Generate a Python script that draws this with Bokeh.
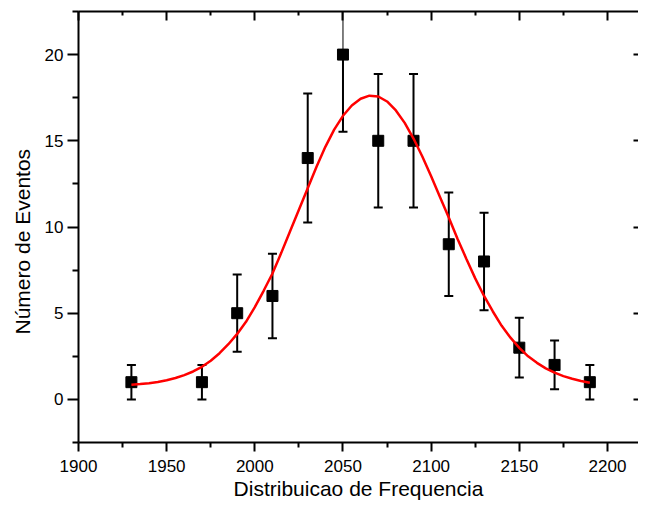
from bokeh.plotting import figure
from bokeh.models import Range1d, LinearAxis, FixedTicker, ColumnDataSource, Title
from bokeh.embed import file_html
from bokeh.resources import INLINE

# measured data (frequency bins, counts, error)
freq = [1930, 1970, 1990, 2010, 2030, 2050, 2070, 2090, 2110, 2130, 2150, 2170, 2190]
events = [1, 1, 5, 6, 14, 20, 15, 15, 9, 8, 3, 2, 1]
err = [1.0, 1.0, 2.24, 2.45, 3.74, 4.47, 3.87, 3.87, 3.0, 2.83, 1.73, 1.41, 1.0]

# fitted curve
fit_x = [1930, 1935, 1940, 1945, 1950, 1955, 1960, 1965, 1970, 1975, 1980, 1985,
         1990, 1995, 2000, 2005, 2010, 2015, 2020, 2025, 2030, 2035, 2040, 2045,
         2050, 2055, 2060, 2065, 2070, 2075, 2080, 2085, 2090, 2095, 2100, 2105,
         2110, 2115, 2120, 2125, 2130, 2135, 2140, 2145, 2150, 2155, 2160, 2165,
         2170, 2175, 2180, 2185, 2190]
fit_y = [0.85, 0.89, 0.94, 1.01, 1.11, 1.24, 1.41, 1.62, 1.89, 2.24, 2.68, 3.2,
         3.8, 4.5, 5.35, 6.3, 7.3, 8.5, 9.75, 11.0, 12.25, 13.5, 14.65, 15.65,
         16.45, 17.05, 17.44, 17.62, 17.57, 17.28, 16.76, 16.04, 15.13, 14.09, 12.95, 11.74,
         10.55, 9.3, 8.15, 7.02, 6.0, 5.1, 4.27, 3.58, 2.99, 2.5, 2.12, 1.8,
         1.55, 1.35, 1.2, 1.07, 0.97]

x_ticks = [1900, 1950, 2000, 2050, 2100, 2150, 2200]
x_minor = [1925, 1975, 2025, 2075, 2125, 2175]
y_ticks = [0, 5, 10, 15, 20]
y_minor = [-2.5, 2.5, 7.5, 12.5, 17.5, 22.5]

X0, X1 = 1900, 2217.6
Y0, Y1 = -2.5, 22.5

FONT = "Liberation Sans"

p = figure(width=638, height=502, output_backend="svg", toolbar_location=None,
           x_range=Range1d(X0, X1), y_range=Range1d(Y0, Y1),
           x_axis_location=None, y_axis_location=None,
           min_border_left=78, min_border_right=0, min_border_top=11,
           min_border_bottom=59)
p.outline_line_color = None
p.xgrid.visible = False
p.ygrid.visible = False
p.background_fill_color = "white"
p.border_fill_color = "white"


def style(ax):
    ax.axis_line_width = 2
    ax.axis_line_color = "black"
    ax.major_tick_line_width = 2
    ax.minor_tick_line_width = 2
    ax.major_tick_line_color = "black"
    ax.minor_tick_line_color = "black"
    ax.major_label_text_font = FONT
    ax.major_label_text_font_size = "17px"
    ax.major_label_text_color = "black"
    ax.axis_label_text_font = FONT
    ax.axis_label_text_font_size = "21px"
    ax.axis_label_text_font_style = "normal"
    ax.axis_label_text_color = "black"
    ax.major_tick_in = 0
    ax.major_tick_out = 0
    ax.minor_tick_in = 0
    ax.minor_tick_out = 0


# bottom axis
xb = LinearAxis(ticker=FixedTicker(ticks=x_ticks, minor_ticks=x_minor),
                axis_label="Distribuicao de Frequencia")
style(xb)
xb.major_tick_out = 9
xb.minor_tick_out = 5
xb.major_label_standoff = 8
xb.axis_label_standoff = 2
p.add_layout(xb, "below")

# left axis
yl = LinearAxis(ticker=FixedTicker(ticks=y_ticks, minor_ticks=y_minor))
style(yl)
yl.major_tick_out = 11
yl.minor_tick_out = 6
yl.major_label_standoff = 4
p.add_layout(yl, "left")

# top axis: line + long ticks at major positions, short ticks at minor positions
xt1 = LinearAxis(ticker=FixedTicker(ticks=[], minor_ticks=x_ticks))
style(xt1)
xt1.minor_tick_in = 9
xt1.major_label_standoff = 0
p.add_layout(xt1, "above")

xt2 = LinearAxis(ticker=FixedTicker(ticks=[], minor_ticks=x_minor))
style(xt2)
xt2.axis_line_color = None
xt2.minor_tick_in = 4
xt2.major_label_standoff = 0
p.add_layout(xt2, "above")

# right side: short inward ticks only
yr = LinearAxis(ticker=FixedTicker(ticks=[], minor_ticks=y_ticks))
style(yr)
yr.axis_line_color = None
yr.minor_tick_in = 5
yr.major_label_standoff = 0
p.add_layout(yr, "right")

# y axis title as a side title (lets it sit a little below the frame centre)
p.add_layout(Title(text="Número de Eventos", align="left", offset=108, standoff=15,
                   text_font=FONT, text_font_size="21px", text_font_style="normal",
                   text_color="black"), "left")

lo = [v - e for v, e in zip(events, err)]
hi = [v + e for v, e in zip(events, err)]
up_w = [2 if h <= Y1 else 1 for h in hi]

src = ColumnDataSource(dict(x=freq, y=events, lo=lo, hi=hi, up_w=up_w))

p.segment(x0="x", y0="lo", x1="x", y1="y", source=src, line_color="black", line_width=2)
p.segment(x0="x", y0="y", x1="x", y1="hi", source=src, line_color="black", line_width="up_w")
p.scatter(x="x", y="lo", source=src, marker="dash", size=9, line_color="black", line_width=2)
p.scatter(x="x", y="hi", source=src, marker="dash", size=9, line_color="black", line_width=2)
p.scatter(x="x", y="y", source=src, marker="square", size=11, fill_color="black", line_color="black")

p.line(fit_x, fit_y, line_color="#ff0000", line_width=2.5)

open("out.html", "w").write(file_html(p, INLINE))
